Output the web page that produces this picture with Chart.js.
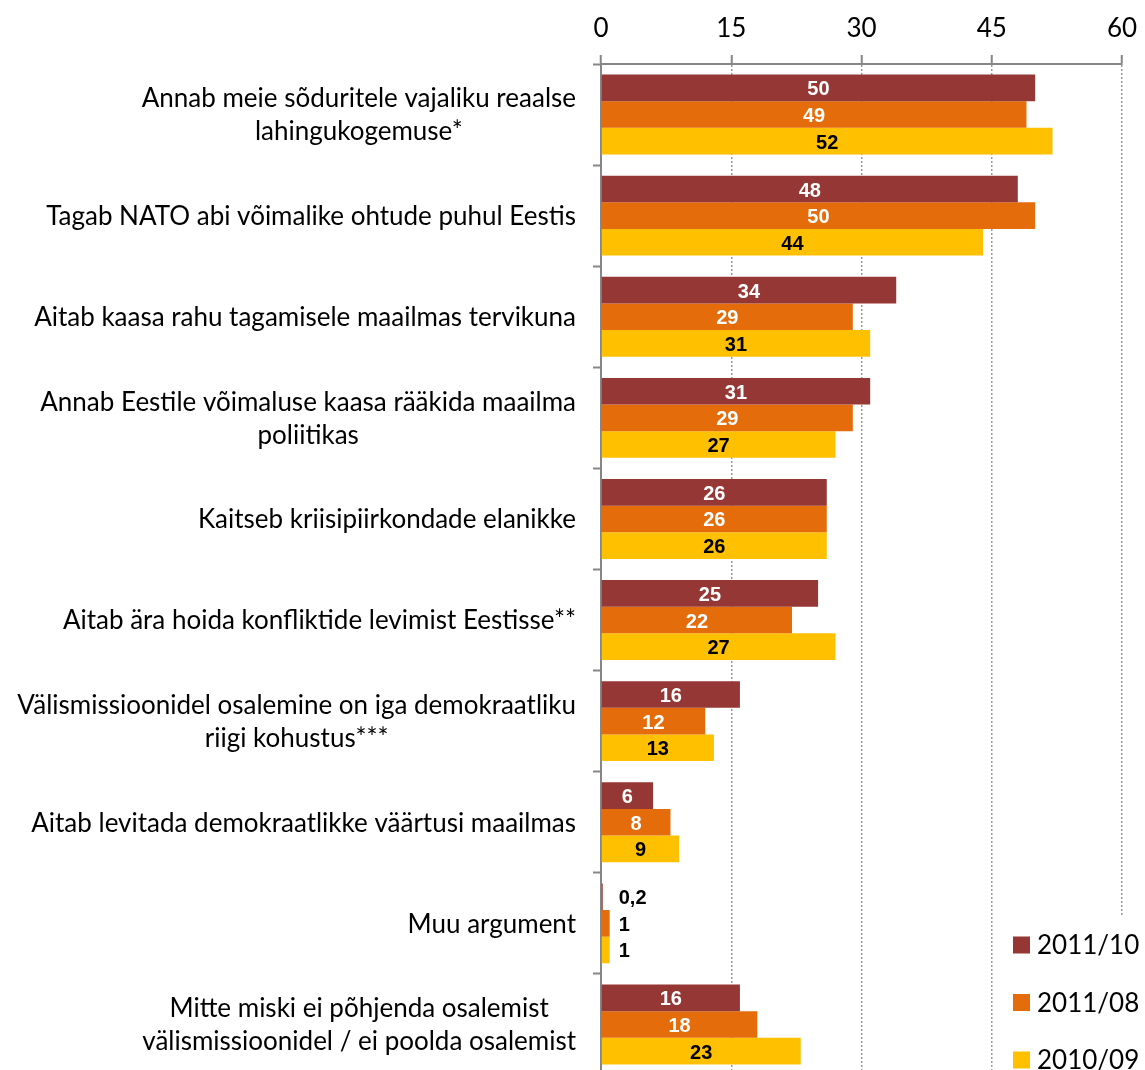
<!DOCTYPE html>
<html lang="et">
<head>
<meta charset="utf-8">
<title>Välismissioonid</title>
<script src="https://cdn.jsdelivr.net/npm/chart.js@4.4.1/dist/chart.umd.min.js"></script>
<style>
    html, body { margin: 0; padding: 0; background: #fff; overflow: hidden; }
    #wrap { width: 1145px; height: 1077px; }
</style>
</head>
<body>
<div id="wrap"><canvas id="missionChart" width="1145" height="1077"></canvas></div>
<script>
// ============================================
// DATA
// ============================================

const categories = [
    ['Annab meie sõduritele vajaliku reaalse', 'lahingukogemuse*'],
    ['Tagab NATO abi võimalike ohtude puhul Eestis'],
    ['Aitab kaasa rahu tagamisele maailmas tervikuna'],
    ['Annab Eestile võimaluse kaasa rääkida maailma', 'poliitikas'],
    ['Kaitseb kriisipiirkondade elanikke'],
    ['Aitab ära hoida konfliktide levimist Eestisse**'],
    ['Välismissioonidel osalemine on iga demokraatliku', 'riigi kohustus***'],
    ['Aitab levitada demokraatlikke väärtusi maailmas'],
    ['Muu argument'],
    ['Mitte miski ei põhjenda osalemist', 'välismissioonidel / ei poolda osalemist']
];

const seriesNames = ['2011/10', '2011/08', '2010/09'];
const values2011_10 = [50, 48, 34, 31, 26, 25, 16, 6, 0.2, 16];
const values2011_08 = [49, 50, 29, 29, 26, 22, 12, 8, 1, 18];
const values2010_09 = [52, 44, 31, 27, 26, 27, 13, 9, 1, 23];
const xTicks = [0, 15, 30, 45, 60];

const seriesColors = ['#953735', '#E46C0A', '#FFC000'];
const labelColors = ['#ffffff', '#ffffff', '#000000'];

const TEXT_FONT = 'Lato, "Open Sans", sans-serif';
const LABEL_FONT = 'bold 20px "Liberation Sans", Arial, sans-serif';

// ============================================
// PLUGINS
// ============================================

// category labels: block right-aligned to the axis, lines centred inside it
const categoryLabels = {
    id: 'categoryLabels',
    afterDraw(chart) {
        const { ctx } = chart;
        const yScale = chart.scales.y;
        const right = yScale.left - 17;
        const lineH = 33;

        ctx.save();
        ctx.font = '26px ' + TEXT_FONT;
        ctx.fillStyle = '#000';
        ctx.textAlign = 'center';
        ctx.textBaseline = 'middle';

        categories.forEach((lines, i) => {
            const yc = yScale.getPixelForValue(i) + 1;
            const w = Math.max(...lines.map(l => ctx.measureText(l).width));
            const xc = right - w / 2;
            const y0 = yc - (lines.length - 1) * lineH / 2;
            lines.forEach((line, j) => ctx.fillText(line, xc, y0 + j * lineH));
        });
        ctx.restore();
    }
};

// value labels on the bars
const barValueLabels = {
    id: 'barValueLabels',
    afterDatasetsDraw(chart) {
        const { ctx } = chart;
        ctx.save();
        ctx.font = LABEL_FONT;
        ctx.textBaseline = 'middle';

        chart.data.datasets.forEach((ds, di) => {
            const meta = chart.getDatasetMeta(di);
            meta.data.forEach((bar, i) => {
                const v = ds.data[i];
                const text = String(v).replace('.', ',');
                if (v < 3) {
                    ctx.textAlign = 'left';
                    ctx.fillStyle = '#000';
                    ctx.fillText(text, Math.max(bar.x + 7, bar.base + 17), bar.y + 2);
                } else {
                    ctx.textAlign = 'center';
                    ctx.fillStyle = labelColors[di];
                    ctx.fillText(text, (bar.x + bar.base) / 2, bar.y + 2);
                }
            });
        });
        ctx.restore();
    }
};

// legend box in the lower right corner
const cornerLegend = {
    id: 'cornerLegend',
    afterDraw(chart) {
        const { ctx, chartArea } = chart;
        const boxLeft = chartArea.right - 122;
        const boxTop = chartArea.bottom - 160;

        ctx.save();
        ctx.fillStyle = '#fff';
        ctx.fillRect(boxLeft, boxTop, chart.width - boxLeft, chart.height - boxTop);

        ctx.font = '26px ' + TEXT_FONT;
        ctx.textAlign = 'left';
        ctx.textBaseline = 'middle';

        chart.data.datasets.forEach((ds, i) => {
            const yc = boxTop + 30 + i * 57.5;
            ctx.fillStyle = ds.backgroundColor;
            ctx.fillRect(boxLeft + 13, yc - 8.5, 17, 17);
            ctx.fillStyle = '#000';
            ctx.fillText(ds.label, boxLeft + 37, yc + 1);
        });
        ctx.restore();
    }
};

// ============================================
// CHART
// ============================================

const datasets = [values2011_10, values2011_08, values2010_09].map((vals, i) => ({
    label: seriesNames[i],
    data: vals,
    backgroundColor: seriesColors[i],
    borderWidth: 0,
    barPercentage: 1.0,
    categoryPercentage: 0.79
}));

new Chart(document.getElementById('missionChart'), {
    type: 'bar',
    data: {
        labels: categories.map(c => c.join(' ')),
        datasets: datasets
    },
    options: {
        indexAxis: 'y',
        responsive: false,
        animation: false,
        layout: {
            padding: { left: 593, right: 23, top: 0, bottom: 2 }
        },
        plugins: {
            legend: { display: false },
            tooltip: { enabled: false }
        },
        scales: {
            x: {
                position: 'top',
                min: xTicks[0],
                max: xTicks[xTicks.length - 1],
                afterBuildTicks: scale => {
                    scale.ticks = xTicks.map(v => ({ value: v }));
                },
                afterFit: scale => {
                    scale.height = 64;
                    scale.paddingLeft = 0;
                    scale.paddingRight = 0;
                },
                ticks: {
                    padding: 13,
                    color: '#000',
                    font: { family: TEXT_FONT, size: 26, lineHeight: 1 }
                },
                grid: {
                    color: '#9a9a9a',
                    lineWidth: 1.5,
                    tickLength: 9,
                    tickColor: '#868686',
                    tickWidth: 2
                },
                border: {
                    color: '#868686',
                    width: 2,
                    dash: [2, 2]
                }
            },
            y: {
                ticks: { display: false },
                grid: {
                    drawOnChartArea: false,
                    tickLength: 8,
                    tickColor: '#868686',
                    tickWidth: 2
                },
                border: {
                    color: '#868686',
                    width: 2
                }
            }
        }
    },
    plugins: [barValueLabels, categoryLabels, cornerLegend]
});
</script>
</body>
</html>
